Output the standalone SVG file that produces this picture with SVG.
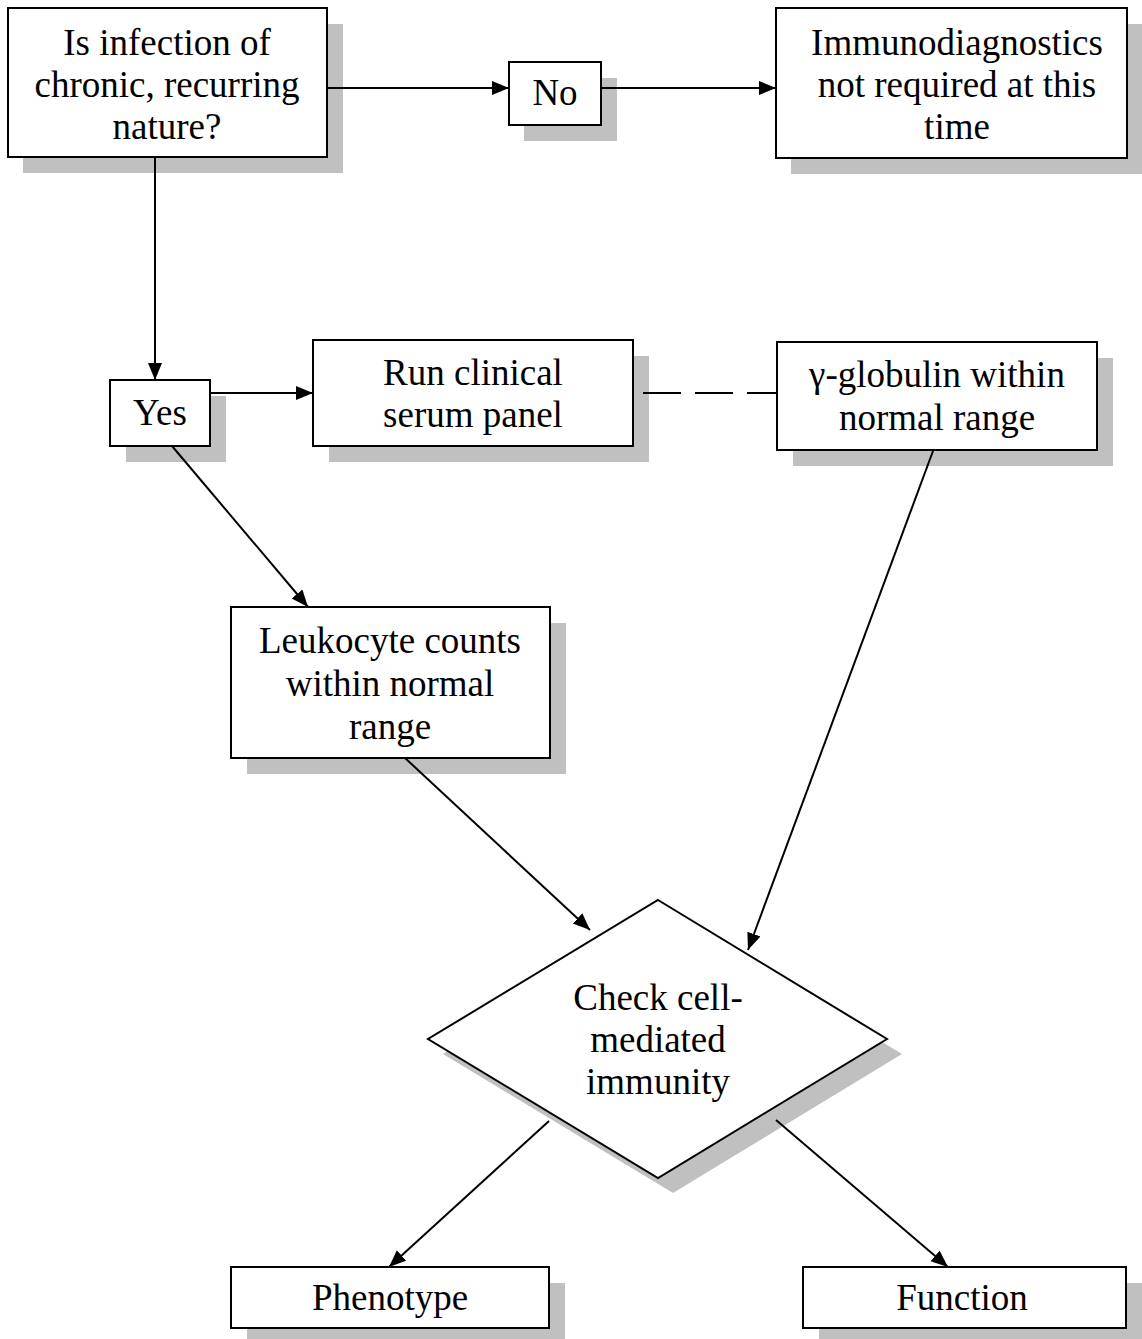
<svg xmlns="http://www.w3.org/2000/svg" width="1142" height="1339" viewBox="0 0 1142 1339">
<style>
.box{fill:#ffffff;stroke:#000000;stroke-width:2}
.sh{fill:#c0c0c0;stroke:none}
.t{font-family:"Liberation Serif","Times New Roman",serif;font-size:37px;fill:#000000;text-anchor:middle}
.c{fill:none;stroke:#000000;stroke-width:2}
</style>
<defs>
<marker id="ah" markerUnits="userSpaceOnUse" markerWidth="20" markerHeight="16" refX="17" refY="7" orient="auto">
<path d="M0,0 L17,7 L0,14 z" fill="#000000"/>
</marker>
</defs>
<rect width="1142" height="1339" fill="#ffffff"/>
<g id="n-question">
<rect class="sh" x="23" y="24" width="320" height="149"/>
<rect class="box" x="8" y="8" width="319" height="149"/>
<text class="t" x="167" y="55">Is infection of</text>
<text class="t" x="167" y="97">chronic, recurring</text>
<text class="t" x="167" y="139">nature?</text>
</g>
<g id="n-no">
<rect class="sh" x="524" y="78" width="93" height="63"/>
<rect class="box" x="509" y="62" width="92" height="63"/>
<text class="t" x="555" y="105">No</text>
</g>
<g id="n-immuno">
<rect class="sh" x="791" y="24" width="351" height="150"/>
<rect class="box" x="776" y="8" width="351" height="150"/>
<text class="t" x="957" y="55">Immunodiagnostics</text>
<text class="t" x="957" y="97">not required at this</text>
<text class="t" x="957" y="139">time</text>
</g>
<g id="n-yes">
<rect class="sh" x="126" y="396" width="100" height="66"/>
<rect class="box" x="110" y="380" width="100" height="66"/>
<text class="t" x="160" y="425">Yes</text>
</g>
<g id="n-run">
<rect class="sh" x="329" y="356" width="320" height="106"/>
<rect class="box" x="313" y="340" width="320" height="106"/>
<text class="t" x="473" y="385">Run clinical</text>
<text class="t" x="473" y="427">serum panel</text>
</g>
<g id="n-gamma">
<rect class="sh" x="793" y="358" width="320" height="108"/>
<rect class="box" x="777" y="342" width="320" height="108"/>
<text class="t" x="937" y="387">γ-globulin within</text>
<text class="t" x="937" y="430">normal range</text>
</g>
<g id="n-leuko">
<rect class="sh" x="247" y="623" width="319" height="151"/>
<rect class="box" x="231" y="607" width="319" height="151"/>
<text class="t" x="390" y="653">Leukocyte counts</text>
<text class="t" x="390" y="696">within normal</text>
<text class="t" x="390" y="739">range</text>
</g>
<g id="n-check">
<polygon class="sh" points="673,915 902,1054 673,1193 443,1054"/>
<polygon class="box" points="658,900 887,1039 658,1178 428,1039"/>
<text class="t" x="658" y="1010">Check cell-</text>
<text class="t" x="658" y="1052">mediated</text>
<text class="t" x="658" y="1094">immunity</text>
</g>
<g id="n-phenotype">
<rect class="sh" x="247" y="1283" width="318" height="61"/>
<rect class="box" x="231" y="1267" width="318" height="61"/>
<text class="t" x="390" y="1310">Phenotype</text>
</g>
<g id="n-function">
<rect class="sh" x="819" y="1283" width="323" height="61"/>
<rect class="box" x="803" y="1267" width="323" height="61"/>
<text class="t" x="962" y="1310">Function</text>
</g>
<g id="connectors">
<line class="c" x1="327" y1="88" x2="509" y2="88" marker-end="url(#ah)"/>
<line class="c" x1="601" y1="88" x2="776" y2="88" marker-end="url(#ah)"/>
<line class="c" x1="155" y1="157" x2="155" y2="380" marker-end="url(#ah)"/>
<line class="c" x1="210" y1="393" x2="313" y2="393" marker-end="url(#ah)"/>
<line class="c" x1="643" y1="393" x2="777" y2="393" stroke-dasharray="38 14"/>
<line class="c" x1="172" y1="446" x2="308" y2="607" marker-end="url(#ah)"/>
<line class="c" x1="405" y1="758" x2="590" y2="930" marker-end="url(#ah)"/>
<line class="c" x1="933" y1="451" x2="748" y2="950" marker-end="url(#ah)"/>
<line class="c" x1="549" y1="1121" x2="389" y2="1267" marker-end="url(#ah)"/>
<line class="c" x1="776" y1="1120" x2="948" y2="1267" marker-end="url(#ah)"/>
</g>
</svg>
